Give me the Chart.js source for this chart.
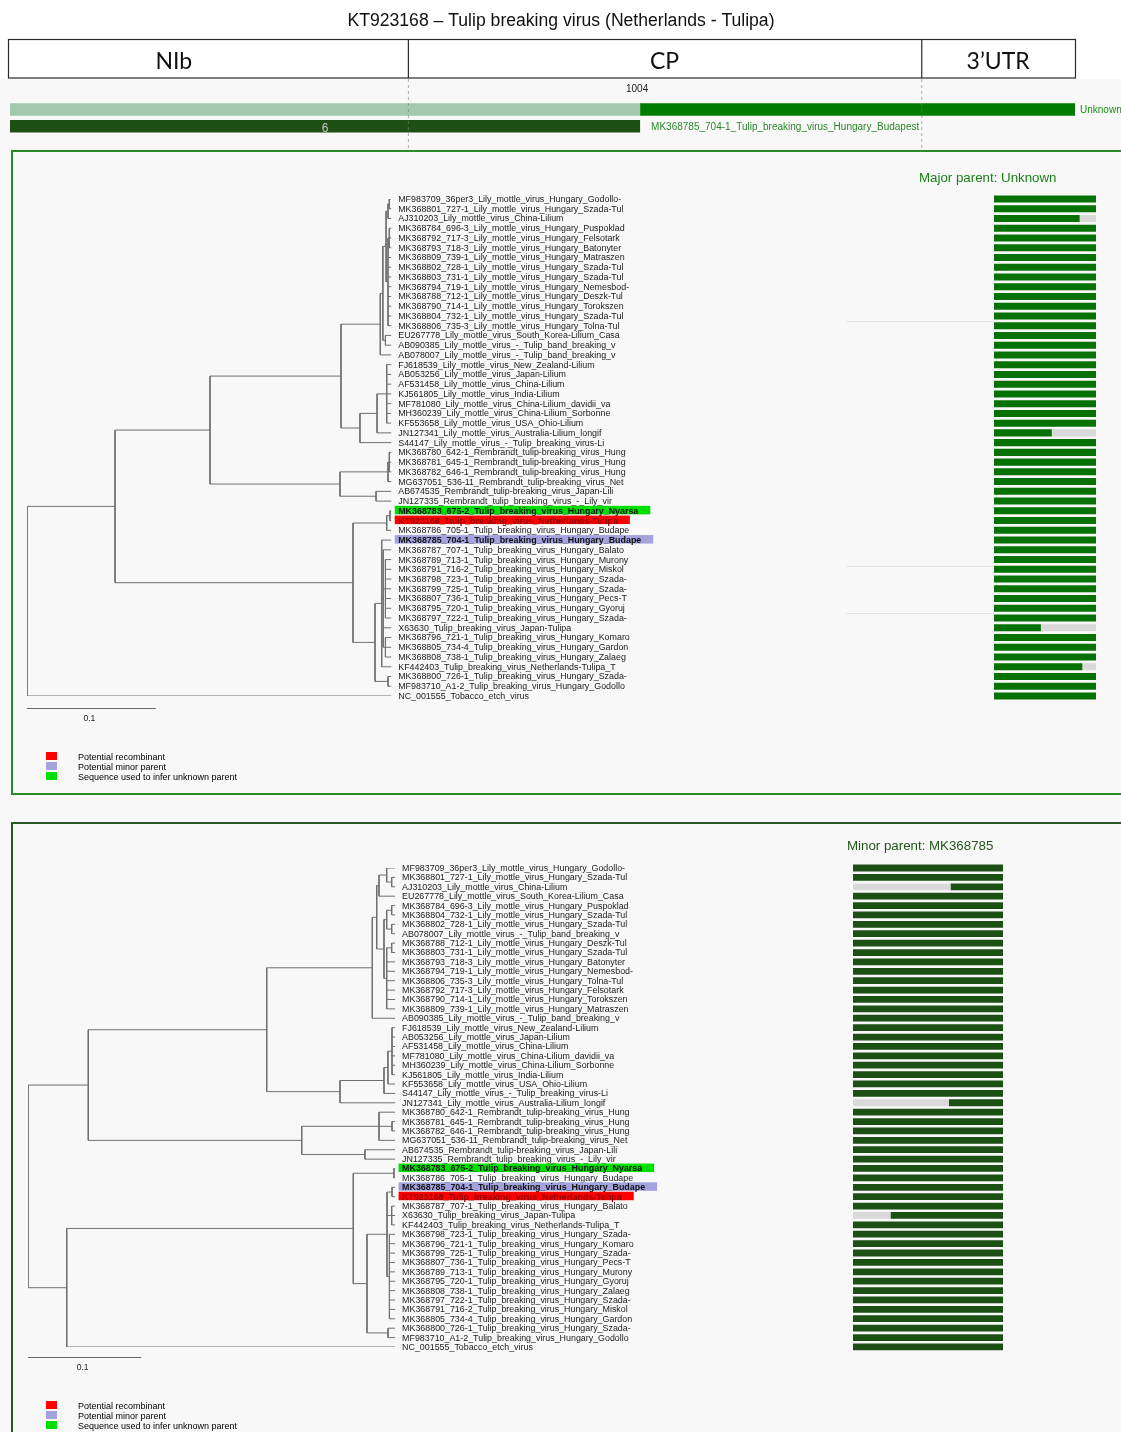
<!DOCTYPE html>
<html>
<head>
<meta charset="utf-8">
<title>KT923168 recombination</title>
<script src="https://cdn.jsdelivr.net/npm/chart.js@4.4.1/dist/chart.umd.min.js"></script>
<style>
    body { margin: 0; background: #f8f8f8; font-family: "Liberation Sans", Arial, sans-serif; }
    #page { position: relative; width: 1121px; height: 1432px; overflow: hidden; }
    #page canvas { position: absolute; }
    .band { position: absolute; left: 0; top: 0; width: 1121px; height: 79px; background: #fff; }
    .panel { position: absolute; box-sizing: border-box; border: 2px solid #2b8a2b; }
    .caption { position: absolute; font-size: 13.3px; line-height: 14px; white-space: nowrap; }
    .legend { position: absolute; font-size: 9px; line-height: 10.2px; white-space: nowrap; }
    .legend div { position: relative; height: 10.2px; padding-left: 32px; }
    .legend span { position: absolute; left: 0; top: 0; width: 11px; height: 8px; }
    .trace { position: absolute; height: 1px; background: #dde6dd; }
</style>
</head>
<body>
<div id="page">
    <div class="band"></div>
    <canvas id="header" width="1121" height="150" style="left:0;top:0"></canvas>

    <div class="panel" style="left:11px;top:150px;width:1130px;height:645px"></div>
    <div class="trace" style="left:846px;top:321px;width:148px"></div>
    <div class="trace" style="left:846px;top:566px;width:148px"></div>
    <div class="trace" style="left:846px;top:613px;width:148px"></div>
    <canvas id="topTree" width="850" height="643" style="left:0;top:151px"></canvas>
    <canvas id="topBars" width="120" height="643" style="left:990px;top:151px"></canvas>
    <div class="caption" style="left:919px;top:171px;color:#1b801b">Major parent: Unknown</div>
    <div class="legend" style="left:46px;top:752px">
        <div><span style="background:#ff0000"></span>Potential recombinant</div>
        <div><span style="background:#a3a3e0"></span>Potential minor parent</div>
        <div><span style="background:#00e000"></span>Sequence used to infer unknown parent</div>
    </div>

    <div class="panel" style="left:11px;top:822px;width:1130px;height:640px;border-color:#2a5a24"></div>
    <canvas id="bottomTree" width="850" height="609" style="left:0;top:823px"></canvas>
    <canvas id="bottomBars" width="160" height="609" style="left:850px;top:823px"></canvas>
    <div class="caption" style="left:847px;top:839px;color:#24561c">Minor parent: MK368785</div>
    <div class="legend" style="left:46px;top:1401px">
        <div><span style="background:#ff0000"></span>Potential recombinant</div>
        <div><span style="background:#a3a3e0"></span>Potential minor parent</div>
        <div><span style="background:#00e000"></span>Sequence used to infer unknown parent</div>
    </div>
</div>

<script>
// ---------- data ----------
const figureTitle = 'KT923168 – Tulip breaking virus (Netherlands - Tulipa)';
const genomeRegions = ['NIb', 'CP', '3’UTR'];
const regionEdges = [-112, 634, 1452, 1697];   // alignment positions
const alignmentLength = 1697;
const breakpoint = 1004;
const majorParent = 'Unknown';
const minorParent = 'MK368785_704-1_Tulip_breaking_virus_Hungary_Budapest';
const minorParentSupport = '6';

const recombinantId = 'KT923168';
const minorParentId = 'MK368785';
const unknownProxyId = 'MK368783';

const topLeaves = [
    'MF983709_36per3_Lily_mottle_virus_Hungary_Godollo-',
    'MK368801_727-1_Lily_mottle_virus_Hungary_Szada-Tul',
    'AJ310203_Lily_mottle_virus_China-Lilium',
    'MK368784_696-3_Lily_mottle_virus_Hungary_Puspoklad',
    'MK368792_717-3_Lily_mottle_virus_Hungary_Felsotark',
    'MK368793_718-3_Lily_mottle_virus_Hungary_Batonyter',
    'MK368809_739-1_Lily_mottle_virus_Hungary_Matraszen',
    'MK368802_728-1_Lily_mottle_virus_Hungary_Szada-Tul',
    'MK368803_731-1_Lily_mottle_virus_Hungary_Szada-Tul',
    'MK368794_719-1_Lily_mottle_virus_Hungary_Nemesbod-',
    'MK368788_712-1_Lily_mottle_virus_Hungary_Deszk-Tul',
    'MK368790_714-1_Lily_mottle_virus_Hungary_Torokszen',
    'MK368804_732-1_Lily_mottle_virus_Hungary_Szada-Tul',
    'MK368806_735-3_Lily_mottle_virus_Hungary_Tolna-Tul',
    'EU267778_Lily_mottle_virus_South_Korea-Lilium_Casa',
    'AB090385_Lily_mottle_virus_-_Tulip_band_breaking_v',
    'AB078007_Lily_mottle_virus_-_Tulip_band_breaking_v',
    'FJ618539_Lily_mottle_virus_New_Zealand-Lilium',
    'AB053256_Lily_mottle_virus_Japan-Lilium',
    'AF531458_Lily_mottle_virus_China-Lilium',
    'KJ561805_Lily_mottle_virus_India-Lilium',
    'MF781080_Lily_mottle_virus_China-Lilium_davidii_va',
    'MH360239_Lily_mottle_virus_China-Lilium_Sorbonne',
    'KF553658_Lily_mottle_virus_USA_Ohio-Lilium',
    'JN127341_Lily_mottle_virus_Australia-Lilium_longif',
    'S44147_Lily_mottle_virus_-_Tulip_breaking_virus-Li',
    'MK368780_642-1_Rembrandt_tulip-breaking_virus_Hung',
    'MK368781_645-1_Rembrandt_tulip-breaking_virus_Hung',
    'MK368782_646-1_Rembrandt_tulip-breaking_virus_Hung',
    'MG637051_536-11_Rembrandt_tulip-breaking_virus_Net',
    'AB674535_Rembrandt_tulip-breaking_virus_Japan-Lili',
    'JN127335_Rembrandt_tulip_breaking_virus_-_Lily_vir',
    'MK368783_675-2_Tulip_breaking_virus_Hungary_Nyarsa',
    'KT923168_Tulip_breaking_virus_Netherlands-Tulipa',
    'MK368786_705-1_Tulip_breaking_virus_Hungary_Budape',
    'MK368785_704-1_Tulip_breaking_virus_Hungary_Budape',
    'MK368787_707-1_Tulip_breaking_virus_Hungary_Balato',
    'MK368789_713-1_Tulip_breaking_virus_Hungary_Murony',
    'MK368791_716-2_Tulip_breaking_virus_Hungary_Miskol',
    'MK368798_723-1_Tulip_breaking_virus_Hungary_Szada-',
    'MK368799_725-1_Tulip_breaking_virus_Hungary_Szada-',
    'MK368807_736-1_Tulip_breaking_virus_Hungary_Pecs-T',
    'MK368795_720-1_Tulip_breaking_virus_Hungary_Gyoruj',
    'MK368797_722-1_Tulip_breaking_virus_Hungary_Szada-',
    'X63630_Tulip_breaking_virus_Japan-Tulipa',
    'MK368796_721-1_Tulip_breaking_virus_Hungary_Komaro',
    'MK368805_734-4_Tulip_breaking_virus_Hungary_Gardon',
    'MK368808_738-1_Tulip_breaking_virus_Hungary_Zalaeg',
    'KF442403_Tulip_breaking_virus_Netherlands-Tulipa_T',
    'MK368800_726-1_Tulip_breaking_virus_Hungary_Szada-',
    'MF983710_A1-2_Tulip_breaking_virus_Hungary_Godollo',
    'NC_001555_Tobacco_etch_virus'
];

// leaves are numbered as in topLeaves; ":n" is the node's distance from the root,
// leaves without it sit at the tip depth
const topTipDepth = 0.283;
const topTree = `
(
  (
    (
      (
        (
          (
            (
              ((1,2):.2815,3):.2805,
              ((4,5,6):.2815,7,8,9,10,11,12,13,14):.2805
            ):.279,
            (15,16):.2785
          ):.2765,
          17
        ):.2745,
        (
          (
            (18,19,20,21,22,23,24):.2795,
            25
          ):.272,
          26
        ):.2587
      ):.244,
      (
        ((27,28,29):.2815,30):.2805,
        (31,32):.2712
      ):.2432
    ):.1422,
    (
      ((33,34):.282,35):.2795,
      (
        (36,(37,(38,39,40,41,42,43,44):.2785,45,(46,47,48):.2785):.2768,49):.2756,
        (50,51):.2805
      ):.2704
    ):.2533
  ):.0684,
  52
)`;

// major parent panel: share of each bar that matches / differs
const topMatch = [
    1, 1, 0.84, 1, 1, 1, 1, 1, 1, 1, 1, 1, 1,
    1, 1, 1, 1, 1, 1, 1, 1, 1, 1, 1, 0.567, 1,
    1, 1, 1, 1, 1, 1, 1, 1, 1, 1, 1, 1, 1,
    1, 1, 1, 1, 1, 0.46, 1, 1, 1, 0.866, 1, 1, 1
];
const topDiffer = [
    0, 0, 0.16, 0, 0, 0, 0, 0, 0, 0, 0, 0, 0,
    0, 0, 0, 0, 0, 0, 0, 0, 0, 0, 0, 0.433, 0,
    0, 0, 0, 0, 0, 0, 0, 0, 0, 0, 0, 0, 0,
    0, 0, 0, 0, 0, 0.54, 0, 0, 0, 0.134, 0, 0, 0
];

const bottomLeaves = [
    'MF983709_36per3_Lily_mottle_virus_Hungary_Godollo-',
    'MK368801_727-1_Lily_mottle_virus_Hungary_Szada-Tul',
    'AJ310203_Lily_mottle_virus_China-Lilium',
    'EU267778_Lily_mottle_virus_South_Korea-Lilium_Casa',
    'MK368784_696-3_Lily_mottle_virus_Hungary_Puspoklad',
    'MK368804_732-1_Lily_mottle_virus_Hungary_Szada-Tul',
    'MK368802_728-1_Lily_mottle_virus_Hungary_Szada-Tul',
    'AB078007_Lily_mottle_virus_-_Tulip_band_breaking_v',
    'MK368788_712-1_Lily_mottle_virus_Hungary_Deszk-Tul',
    'MK368803_731-1_Lily_mottle_virus_Hungary_Szada-Tul',
    'MK368793_718-3_Lily_mottle_virus_Hungary_Batonyter',
    'MK368794_719-1_Lily_mottle_virus_Hungary_Nemesbod-',
    'MK368806_735-3_Lily_mottle_virus_Hungary_Tolna-Tul',
    'MK368792_717-3_Lily_mottle_virus_Hungary_Felsotark',
    'MK368790_714-1_Lily_mottle_virus_Hungary_Torokszen',
    'MK368809_739-1_Lily_mottle_virus_Hungary_Matraszen',
    'AB090385_Lily_mottle_virus_-_Tulip_band_breaking_v',
    'FJ618539_Lily_mottle_virus_New_Zealand-Lilium',
    'AB053256_Lily_mottle_virus_Japan-Lilium',
    'AF531458_Lily_mottle_virus_China-Lilium',
    'MF781080_Lily_mottle_virus_China-Lilium_davidii_va',
    'MH360239_Lily_mottle_virus_China-Lilium_Sorbonne',
    'KJ561805_Lily_mottle_virus_India-Lilium',
    'KF553658_Lily_mottle_virus_USA_Ohio-Lilium',
    'S44147_Lily_mottle_virus_-_Tulip_breaking_virus-Li',
    'JN127341_Lily_mottle_virus_Australia-Lilium_longif',
    'MK368780_642-1_Rembrandt_tulip-breaking_virus_Hung',
    'MK368781_645-1_Rembrandt_tulip-breaking_virus_Hung',
    'MK368782_646-1_Rembrandt_tulip-breaking_virus_Hung',
    'MG637051_536-11_Rembrandt_tulip-breaking_virus_Net',
    'AB674535_Rembrandt_tulip-breaking_virus_Japan-Lili',
    'JN127335_Rembrandt_tulip_breaking_virus_-_Lily_vir',
    'MK368783_675-2_Tulip_breaking_virus_Hungary_Nyarsa',
    'MK368786_705-1_Tulip_breaking_virus_Hungary_Budape',
    'MK368785_704-1_Tulip_breaking_virus_Hungary_Budape',
    'KT923168_Tulip_breaking_virus_Netherlands-Tulipa',
    'MK368787_707-1_Tulip_breaking_virus_Hungary_Balato',
    'X63630_Tulip_breaking_virus_Japan-Tulipa',
    'KF442403_Tulip_breaking_virus_Netherlands-Tulipa_T',
    'MK368798_723-1_Tulip_breaking_virus_Hungary_Szada-',
    'MK368796_721-1_Tulip_breaking_virus_Hungary_Komaro',
    'MK368799_725-1_Tulip_breaking_virus_Hungary_Szada-',
    'MK368807_736-1_Tulip_breaking_virus_Hungary_Pecs-T',
    'MK368789_713-1_Tulip_breaking_virus_Hungary_Murony',
    'MK368795_720-1_Tulip_breaking_virus_Hungary_Gyoruj',
    'MK368808_738-1_Tulip_breaking_virus_Hungary_Zalaeg',
    'MK368797_722-1_Tulip_breaking_virus_Hungary_Szada-',
    'MK368791_716-2_Tulip_breaking_virus_Hungary_Miskol',
    'MK368805_734-4_Tulip_breaking_virus_Hungary_Gardon',
    'MK368800_726-1_Tulip_breaking_virus_Hungary_Szada-',
    'MF983710_A1-2_Tulip_breaking_virus_Hungary_Godollo',
    'NC_001555_Tobacco_etch_virus'
];

const bottomTipDepth = 0.324;
const bottomTree = `
(
  (
    (
      (
        (
          (
            (1,(2,3):.321):.3166,
            4
          ):.3098,
          (
            ((5,6):.321,(7,8):.321):.3166,
            ((9,10):.321,11,12,13,14,15,16):.3166
          ):.3142
        ):.3078,
        17
      ):.3039,
      (
        (
          (
            (18,19,20,21,22,23):.3213,
            24
          ):.3177,
          25
        ):.3142,
        26
      ):.2754
    ):.2107,
    (
      (27,(28,29):.3213,30):.3098,
      (31,32):.2974
    ):.2416
  ):.0532,
  (
    (
      (33,34):.323,
      (
        ((35,36):.3213,(37,38,39):.321,(40,41,42,43,44,45,46,47,48,49):.319):.3169,
        (50,51):.3178
      ):.2992
    ):.2871,
    52
  ):.0342
)`;

// minor parent panel: differing part comes first (left), matching part after
const bottomDiffer = [
    0, 0, 0.65, 0, 0, 0, 0, 0, 0, 0, 0, 0, 0,
    0, 0, 0, 0, 0, 0, 0, 0, 0, 0, 0, 0, 0.64,
    0, 0, 0, 0, 0, 0, 0, 0, 0, 0, 0, 0.25, 0,
    0, 0, 0, 0, 0, 0, 0, 0, 0, 0, 0, 0, 0
];
const bottomMatch = [
    1, 1, 0.35, 1, 1, 1, 1, 1, 1, 1, 1, 1, 1,
    1, 1, 1, 1, 1, 1, 1, 1, 1, 1, 1, 1, 0.36,
    1, 1, 1, 1, 1, 1, 1, 1, 1, 1, 1, 0.75, 1,
    1, 1, 1, 1, 1, 1, 1, 1, 1, 1, 1, 1, 1
];

// ---------- helpers ----------
function parseTree(text, tipDepth) {
    const s = text.replace(/\s+/g, '');
    let i = 0;
    function readNumber() {
        let out = '';
        while (i < s.length && /[0-9.]/.test(s[i])) out += s[i++];
        return out;
    }
    function node() {
        const n = { children: [] };
        if (s[i] === '(') {
            i++;
            n.children.push(node());
            while (s[i] === ',') {
                i++;
                n.children.push(node());
            }
            i++;
        } else {
            n.leaf = parseInt(readNumber()) - 1;
        }
        if (s[i] === ':') {
            i++;
            n.depth = parseFloat(readNumber());
        } else {
            n.depth = n.leaf !== undefined ? tipDepth : 0;
        }
        return n;
    }
    return node();
}

// rectangular cladogram: vertical bar at each node, horizontal to each child
function treeSegments(root) {
    const pts = [];
    const gap = { x: NaN, y: NaN };
    function walk(n) {
        if (n.leaf !== undefined) {
            n.y = n.leaf;
            return;
        }
        n.children.forEach(walk);
        const first = n.children[0].y;
        const last = n.children[n.children.length - 1].y;
        n.y = (first + last) / 2;
        pts.push({ x: n.depth, y: first }, { x: n.depth, y: last }, gap);
        n.children.forEach(c => {
            pts.push({ x: n.depth, y: c.y }, { x: c.depth, y: c.y }, gap);
        });
    }
    walk(root);
    return pts;
}

function roleOf(name) {
    if (name.startsWith(recombinantId)) return { fill: '#ff0000', text: '#8e0000' };
    if (name.startsWith(minorParentId)) return { fill: '#a3a3e0', text: '#111111' };
    if (name.startsWith(unknownProxyId)) return { fill: '#00e000', text: '#111111' };
    return null;
}

function drawTree(canvasId, leaves, newick, tipDepth, xMax, padding, labelGap, barGap) {
    const root = parseTree(newick, tipDepth);
    const segments = treeSegments(root);

    const labelPlugin = {
        id: 'leafLabels',
        afterDatasetsDraw(chart) {
            const { ctx } = chart;
            const x = chart.scales.x;
            const y = chart.scales.y;
            const labelX = x.getPixelForValue(tipDepth) + labelGap;
            ctx.save();
            ctx.textBaseline = 'middle';
            ctx.textAlign = 'left';
            leaves.forEach((name, i) => {
                const py = y.getPixelForValue(i);
                const role = roleOf(name);
                ctx.font = (role ? 'bold ' : '') + '8.9px "Liberation Sans"';
                if (role) {
                    const w = ctx.measureText(name).width;
                    ctx.fillStyle = role.fill;
                    ctx.fillRect(labelX - 3.5, py - 5, w + 15.5, 8.5);
                }
                ctx.fillStyle = role ? role.text : '#1a1a1a';
                ctx.fillText(name, labelX, py + 0.5);
            });

            // scale bar
            const y0 = y.getPixelForValue(leaves.length - 1) + barGap;
            const xa = x.getPixelForValue(0);
            const xb = x.getPixelForValue(0.1);
            ctx.strokeStyle = '#666';
            ctx.lineWidth = 1;
            ctx.beginPath();
            ctx.moveTo(xa, y0 + 0.5);
            ctx.lineTo(xb, y0 + 0.5);
            ctx.stroke();
            ctx.fillStyle = '#222';
            ctx.font = '8.5px "Liberation Sans"';
            ctx.textAlign = 'center';
            ctx.fillText('0.1', (xa + xb) / 2 - 2, y0 + 11);
            ctx.restore();
        }
    };

    return new Chart(document.getElementById(canvasId), {
        type: 'scatter',
        data: {
            datasets: [{
                data: segments,
                showLine: true,
                spanGaps: false,
                borderColor: '#6f6f6f',
                borderWidth: 1,
                pointRadius: 0
            }]
        },
        options: {
            responsive: false,
            animation: false,
            layout: { padding },
            scales: {
                x: { type: 'linear', display: false, min: 0, max: xMax },
                y: { type: 'linear', display: false, min: 0, max: leaves.length - 1, reverse: true }
            },
            plugins: { legend: { display: false }, tooltip: { enabled: false } }
        },
        plugins: [labelPlugin]
    });
}

function drawBars(canvasId, leaves, first, second, colours, padding) {
    return new Chart(document.getElementById(canvasId), {
        type: 'bar',
        data: {
            labels: leaves,
            datasets: [
                { data: first, backgroundColor: colours[0] },
                { data: second, backgroundColor: colours[1] }
            ]
        },
        options: {
            indexAxis: 'y',
            responsive: false,
            animation: false,
            layout: { padding },
            datasets: { bar: { barPercentage: 0.72, categoryPercentage: 1 } },
            scales: {
                x: { display: false, stacked: true, min: 0, max: 1 },
                y: { display: false, stacked: true }
            },
            plugins: { legend: { display: false }, tooltip: { enabled: false } }
        }
    });
}

// ---------- header: genome map and breakpoint bars ----------
const headerPlugin = {
    id: 'headerDecor',
    beforeDatasetsDraw(chart) {
        const { ctx } = chart;
        const px = v => chart.scales.x.getPixelForValue(v);
        ctx.save();
        ctx.fillStyle = '#111';
        ctx.font = '17.6px "Liberation Sans"';
        ctx.textAlign = 'center';
        ctx.textBaseline = 'middle';
        ctx.fillText(figureTitle, 561, 21);

        const left = Math.max(8, px(regionEdges[0]));
        const right = px(regionEdges[regionEdges.length - 1]);
        ctx.fillStyle = '#ffffff';
        ctx.fillRect(left, 39, right - left, 39);
        ctx.strokeStyle = '#2a2a2a';
        ctx.lineWidth = 1.2;
        ctx.strokeRect(left + 0.5, 39.5, right - left, 38.5);
        ctx.beginPath();
        for (let i = 1; i < regionEdges.length - 1; i++) {
            ctx.moveTo(px(regionEdges[i]) + 0.5, 39.5);
            ctx.lineTo(px(regionEdges[i]) + 0.5, 78);
        }
        ctx.stroke();
        ctx.fillStyle = '#111';
        ctx.font = '23px Lato';
        genomeRegions.forEach((name, i) => {
            ctx.fillText(name, (px(regionEdges[i]) + px(regionEdges[i + 1])) / 2, 62);
        });
        ctx.restore();
    },
    afterDatasetsDraw(chart) {
        const { ctx } = chart;
        const px = v => chart.scales.x.getPixelForValue(v);
        const y = chart.scales.y;
        ctx.save();
        ctx.strokeStyle = 'rgba(120,120,120,0.6)';
        ctx.lineWidth = 1;
        ctx.setLineDash([3, 3]);
        ctx.beginPath();
        for (let i = 1; i < regionEdges.length - 1; i++) {
            ctx.moveTo(px(regionEdges[i]) + 0.5, 79);
            ctx.lineTo(px(regionEdges[i]) + 0.5, 148);
        }
        ctx.stroke();
        ctx.setLineDash([]);

        ctx.textBaseline = 'middle';
        ctx.textAlign = 'center';
        ctx.fillStyle = '#222';
        ctx.font = '10px "Liberation Sans"';
        ctx.fillText(String(breakpoint), px(breakpoint) - 3, 89);

        ctx.textAlign = 'left';
        ctx.fillStyle = '#139413';
        ctx.fillText(majorParent, px(alignmentLength) + 5, y.getPixelForValue(0) + 0.5);
        ctx.fillStyle = '#2b882b';
        ctx.fillText(minorParent, px(breakpoint) + 11, y.getPixelForValue(1) + 1);

        ctx.textAlign = 'center';
        ctx.fillStyle = '#c9c9c9';
        ctx.font = '12px "Liberation Sans"';
        ctx.fillText(minorParentSupport, (px(0) + px(breakpoint)) / 2, y.getPixelForValue(1) + 2);
        ctx.restore();
    }
};

new Chart(document.getElementById('header'), {
    type: 'bar',
    data: {
        labels: ['major', 'minor'],
        datasets: [
            { data: [[0, breakpoint], null], backgroundColor: '#a2c9ad', grouped: false },
            { data: [[breakpoint, alignmentLength], null], backgroundColor: '#007d00', grouped: false },
            { data: [null, [0, breakpoint]], backgroundColor: '#1d4f15', grouped: false }
        ]
    },
    options: {
        indexAxis: 'y',
        responsive: false,
        animation: false,
        layout: { padding: { left: 10, right: 46, top: 101.2, bottom: 15.4 } },
        datasets: { bar: { barPercentage: 0.74, categoryPercentage: 1 } },
        scales: {
            x: { display: false, min: 0, max: alignmentLength },
            y: { display: false }
        },
        plugins: { legend: { display: false }, tooltip: { enabled: false } }
    },
    plugins: [headerPlugin]
});

// ---------- panels ----------
drawTree('topTree', topLeaves, topTree, topTipDepth, 0.3,
    { left: 27, right: 436.9, top: 48, bottom: 98 }, 7, 12);
drawBars('topBars', topLeaves, topMatch, topDiffer, ['#067206', '#d9d9d9'],
    { left: 4, right: 14, top: 43.13, bottom: 93.13 });

drawTree('bottomTree', bottomLeaves, bottomTree, bottomTipDepth, 0.34,
    { left: 28, right: 436.8, top: 45, bottom: 85 }, 7, 10);
drawBars('bottomBars', bottomLeaves, bottomDiffer, bottomMatch, ['#d9d9d9', '#1c5014'],
    { left: 3, right: 7, top: 40.3, bottom: 80.4 });
</script>
</body>
</html>
